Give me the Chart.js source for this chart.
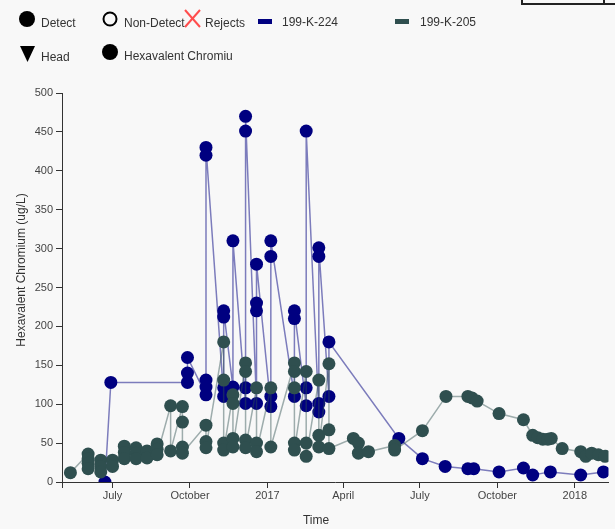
<!DOCTYPE html>
<html>
<head>
<meta charset="utf-8">
<title>Hexavalent Chromium</title>
<script src="https://cdn.jsdelivr.net/npm/chart.js@4.4.1/dist/chart.umd.min.js"></script>
<style>
  html, body { margin: 0; padding: 0; background: #f8f8f8; overflow: hidden; }
  #wrap { position: relative; width: 615px; height: 529px; }
  #c { position: absolute; left: 0; top: 0; }
  .lg { position: absolute; font: 12px "Liberation Sans", Arial, sans-serif; color: #333; white-space: nowrap; line-height: 14px; }
  #sym { position: absolute; left: 0; top: 0; }
  #topbox { position: absolute; left: 521px; top: -12px; width: 110px; height: 13px; border: 2px solid #222; }
  #topbox::after { content: ""; position: absolute; left: 80px; top: 0; height: 13px; border-left: 2px solid #222; }
</style>
</head>
<body>
<div id="wrap">
  <canvas id="c" width="615" height="529"></canvas>
  <div id="topbox"></div>
  <svg id="sym" width="615" height="75">
    <circle cx="27" cy="19" r="8" fill="#000"/>
    <circle cx="110" cy="19" r="6.5" fill="none" stroke="#000" stroke-width="2"/>
    <line x1="185" y1="10" x2="200" y2="27" stroke="#ff4d4d" stroke-width="2"/>
    <line x1="200" y1="10" x2="185" y2="27" stroke="#ff4d4d" stroke-width="2"/>
    <rect x="258" y="19" width="14" height="5" fill="#000080"/>
    <rect x="395" y="19" width="14" height="5" fill="#2f4f4f"/>
    <polygon points="20,46 35,46 27.5,62" fill="#000"/>
    <circle cx="110" cy="52" r="8" fill="#000"/>
  </svg>
  <span class="lg" style="left:41px;top:16px">Detect</span>
  <span class="lg" style="left:124px;top:16px">Non-Detect</span>
  <span class="lg" style="left:205px;top:16px">Rejects</span>
  <span class="lg" style="left:282px;top:15px">199-K-224</span>
  <span class="lg" style="left:420px;top:15px">199-K-205</span>
  <span class="lg" style="left:41px;top:50px">Head</span>
  <span class="lg" style="left:124px;top:49px">Hexavalent Chromiu</span>
</div>
<script>
// Sample dates and hexavalent chromium results (ug/L) per well
const k224Dates = [
  '2016-06-22','2016-06-29',
  '2016-09-28','2016-09-28','2016-09-28',
  '2016-10-20','2016-10-20','2016-10-20','2016-10-20','2016-10-20',
  '2016-11-10','2016-11-10','2016-11-10','2016-11-10',
  '2016-11-21','2016-11-21',
  '2016-12-06','2016-12-06','2016-12-06','2016-12-06',
  '2016-12-19','2016-12-19','2016-12-19','2016-12-19',
  '2017-01-05','2017-01-05','2017-01-05','2017-01-05',
  '2017-02-02','2017-02-02','2017-02-02',
  '2017-02-16','2017-02-16','2017-02-16',
  '2017-03-03','2017-03-03','2017-03-03','2017-03-03',
  '2017-03-15','2017-03-15',
  '2017-06-06','2017-07-04','2017-07-31','2017-08-27','2017-09-03',
  '2017-10-03','2017-11-01','2017-11-12','2017-12-03','2018-01-08','2018-02-04'
];
const k224Values = [
  0, 128,
  128, 140, 160,
  112, 122, 131, 420, 430,
  110, 121, 212, 220,
  122, 310,
  101, 121, 451, 470,
  101, 220, 230, 280,
  97, 110, 290, 310,
  110, 210, 220,
  98, 121, 451,
  90, 101, 290, 301,
  110, 180,
  56, 30, 20, 17, 17,
  13, 18, 9, 13, 9, 13
];

const k205Dates = [
  '2016-05-12',
  '2016-06-02','2016-06-02','2016-06-02','2016-06-02',
  '2016-06-17','2016-06-17','2016-06-17',
  '2016-07-01','2016-07-01',
  '2016-07-15','2016-07-15','2016-07-15',
  '2016-07-29','2016-07-29','2016-07-29',
  '2016-08-11','2016-08-11',
  '2016-08-23','2016-08-23','2016-08-23',
  '2016-09-08','2016-09-08',
  '2016-09-22','2016-09-22','2016-09-22','2016-09-22',
  '2016-10-20','2016-10-20','2016-10-20',
  '2016-11-10','2016-11-10','2016-11-10','2016-11-10',
  '2016-11-21','2016-11-21','2016-11-21','2016-11-21',
  '2016-12-06','2016-12-06','2016-12-06','2016-12-06',
  '2016-12-19','2016-12-19','2016-12-19',
  '2017-01-05','2017-01-05',
  '2017-02-02','2017-02-02','2017-02-02','2017-02-02','2017-02-02',
  '2017-02-16','2017-02-16','2017-02-16',
  '2017-03-03','2017-03-03','2017-03-03',
  '2017-03-15','2017-03-15','2017-03-15',
  '2017-04-13','2017-04-19','2017-04-19','2017-05-01',
  '2017-06-01','2017-06-01',
  '2017-07-04','2017-08-01','2017-08-27','2017-09-01','2017-09-07',
  '2017-10-03','2017-11-01','2017-11-12','2017-11-18','2017-11-24',
  '2017-11-30','2017-12-04','2017-12-17','2018-01-08','2018-01-14',
  '2018-01-21','2018-01-29','2018-02-06'
];
const k205Values = [
  12,
  36, 30, 24, 17,
  28, 20, 13,
  28, 20,
  46, 38, 30,
  44, 37, 30,
  40, 31,
  49, 42, 35,
  98, 40,
  97, 77, 45, 37,
  73, 52, 44,
  180, 131, 50, 41,
  112, 101, 56, 45,
  153, 142, 54, 44,
  121, 50, 39,
  121, 45,
  153, 142, 121, 50, 41,
  142, 50, 33,
  131, 60, 45,
  152, 67, 43,
  56, 50, 37, 39,
  47, 41,
  66, 110, 110, 108, 104,
  88, 80, 60, 57, 55,
  55, 56, 43, 39, 33,
  37, 35, 33
];

// Time axis: quarter ticks and visible range
const tickDates  = ['2016-05-02','2016-07-01','2016-10-01','2017-01-01','2017-04-01','2017-07-01','2017-10-01','2018-01-01'];
const tickLabels = ['', 'July', 'October', '2017', 'April', 'July', 'October', '2018'];
const rangeDates = ['2016-05-02', '2018-02-10'];
const yTicks = [0, 50, 100, 150, 200, 250, 300, 350, 400, 450, 500];

const DAY0 = Date.UTC(2016, 6, 1);
function toDay(s) {
  const [y, m, d] = s.split('-').map(Number);
  return (Date.UTC(y, m - 1, d) - DAY0) / 864e5;
}
const pts = (dates, vals) => dates.map((d, i) => ({ x: toDay(d), y: vals[i] }));
const tickDays = tickDates.map(toDay);

const FONT = '"Liberation Sans", Arial, sans-serif';
const axisColor = '#333';

const axisTitles = {
  id: 'axisTitles',
  afterDraw(chart) {
    const { ctx } = chart;
    ctx.save();
    ctx.fillStyle = '#333';
    ctx.font = '12px ' + FONT;
    ctx.textAlign = 'center';
    ctx.textBaseline = 'middle';
    ctx.fillText('Time', 316, 521);
    ctx.translate(22, 270);
    ctx.rotate(-Math.PI / 2);
    ctx.fillText('Hexavalent Chromium (ug/L)', 0, 0);
    ctx.restore();
  }
};

new Chart(document.getElementById('c'), {
  type: 'line',
  data: {
    datasets: [
      {
        label: '199-K-205',
        data: pts(k205Dates, k205Values),
        borderColor: 'rgba(47,79,79,0.45)',
        borderWidth: 1.5,
        backgroundColor: '#2f4f4f',
        pointBackgroundColor: '#2f4f4f',
        pointBorderColor: '#2f4f4f',
        pointBorderWidth: 0,
        pointRadius: 6.5,
        tension: 0,
        order: 0
      },
      {
        label: '199-K-224',
        data: pts(k224Dates, k224Values),
        borderColor: 'rgba(0,0,128,0.5)',
        borderWidth: 1.5,
        backgroundColor: '#000080',
        pointBackgroundColor: '#000080',
        pointBorderColor: '#000080',
        pointBorderWidth: 0,
        pointRadius: 6.5,
        tension: 0,
        order: 1
      }
    ]
  },
  options: {
    responsive: false,
    animation: false,
    events: [],
    layout: { padding: { top: 93, right: 0, bottom: 0, left: 0 } },
    plugins: { legend: { display: false }, tooltip: { enabled: false } },
    scales: {
      x: {
        type: 'linear',
        min: toDay(rangeDates[0]),
        max: toDay(rangeDates[1]),
        afterBuildTicks: s => { s.ticks = tickDays.map(v => ({ value: v })); },
        afterFit: s => { s.height = 47; },
        ticks: {
          autoSkip: false,
          maxRotation: 0,
          padding: 1,
          color: '#444',
          font: { family: FONT, size: 11 },
          callback: v => { const i = tickDays.indexOf(v); return i >= 0 ? tickLabels[i] : ''; }
        },
        grid: { drawOnChartArea: false, drawTicks: true, tickLength: 6, color: axisColor },
        border: { display: true, color: axisColor, width: 1 }
      },
      y: {
        min: 0,
        max: 500,
        afterBuildTicks: s => { s.ticks = yTicks.map(v => ({ value: v })); },
        afterFit: s => { s.width = 62; },
        ticks: {
          padding: 3,
          color: '#444',
          font: { family: FONT, size: 11 }
        },
        grid: { drawOnChartArea: false, drawTicks: true, tickLength: 6, color: axisColor },
        border: { display: true, color: axisColor, width: 1 }
      }
    }
  },
  plugins: [axisTitles]
});
</script>
</body>
</html>
